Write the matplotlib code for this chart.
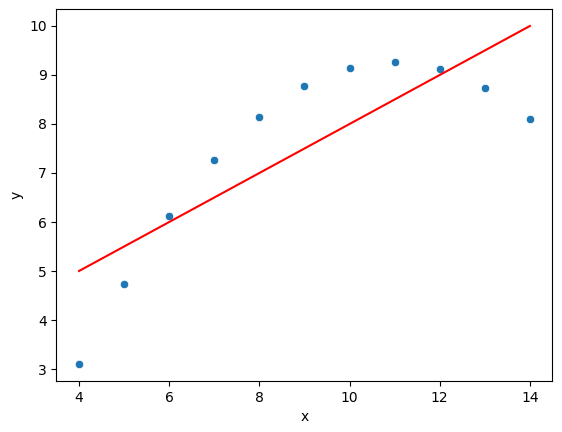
import matplotlib
matplotlib.use("Agg")
import matplotlib.pyplot as plt
import seaborn as sns
import pandas as pd

x_vals = [4, 5, 6, 7, 8, 9, 10, 11, 12, 13, 14]
y_vals = [3.10, 4.74, 6.13, 7.26, 8.14, 8.77, 9.14, 9.26, 9.13, 8.74, 8.10]
line_x = [4, 14]
line_y = [5, 10]

df = pd.DataFrame({"x": x_vals, "y": y_vals})

fig = plt.figure(figsize=(5.62, 4.32), dpi=100)
ax = fig.add_axes([0.1005, 0.118, 0.8825, 0.861])
sns.scatterplot(data=df, x="x", y="y", ax=ax)
ax.plot(line_x, line_y, color="red")

fig.savefig("out.png", dpi=100)
